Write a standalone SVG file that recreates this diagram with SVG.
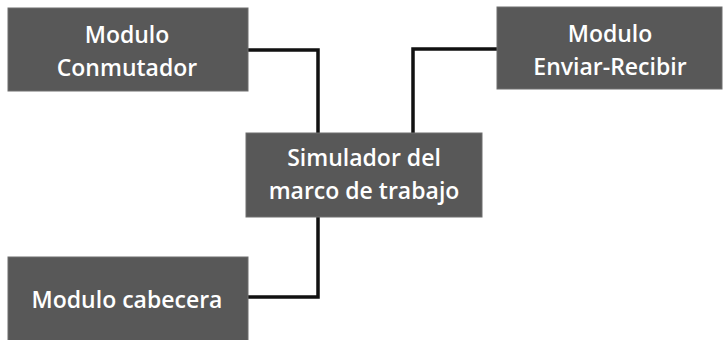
<svg xmlns="http://www.w3.org/2000/svg" width="725" height="340" viewBox="0 0 725 340">
<style>
.box{fill:#585858;stroke:#6e6e6e;stroke-width:1}
.lbl{font-family:"Open Sans","Noto Sans",sans-serif;font-size:23px;font-weight:600;fill:#ffffff;text-anchor:middle}
.conn{fill:none;stroke:#111;stroke-width:3.5;stroke-linejoin:miter}
</style>
<rect width="725" height="340" fill="#ffffff"/>
<g id="connectors">
<polyline class="conn" points="248,50 318,50 318,133"/>
<polyline class="conn" points="497,49 413,49 413,133"/>
<polyline class="conn" points="318,217 318,297 248,297"/>
</g>
<g id="n-conmutador">
<rect class="box" x="8" y="8" width="240" height="83"/>
<text class="lbl" x="127" y="43">Modulo</text>
<text class="lbl" x="127" y="76">Conmutador</text>
</g>
<g id="n-enviar">
<rect class="box" x="497" y="7" width="225" height="82"/>
<text class="lbl" x="610" y="42">Modulo</text>
<text class="lbl" x="610" y="75">Enviar-Recibir</text>
</g>
<g id="n-simulador">
<rect class="box" x="246" y="133" width="236" height="84"/>
<text class="lbl" x="364" y="166">Simulador del</text>
<text class="lbl" x="364" y="199">marco de trabajo</text>
</g>
<g id="n-cabecera">
<rect class="box" x="8" y="257" width="240" height="90"/>
<text class="lbl" x="127" y="308">Modulo cabecera</text>
</g>
</svg>
